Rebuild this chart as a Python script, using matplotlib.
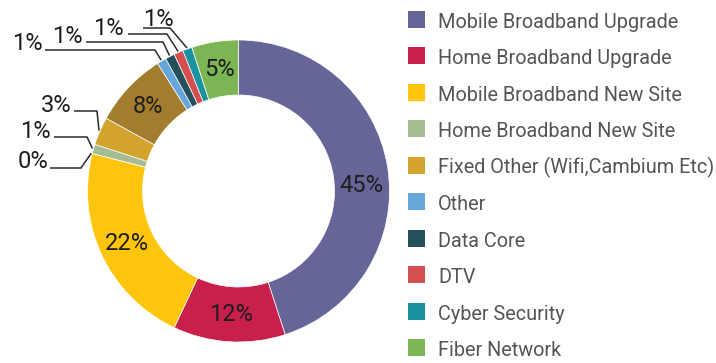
import numpy as np
import matplotlib
matplotlib.use("Agg")
import matplotlib.pyplot as plt
from matplotlib.patches import Rectangle

plt.rcParams['font.family'] = ['Roboto', 'DejaVu Sans']

# Share of spend per category, clockwise from 12 o'clock
slice_names = ["Mobile Broadband Upgrade", "Home Broadband Upgrade",
               "Mobile Broadband New Site", None, "Home Broadband New Site",
               "Fixed Other (Wifi,Cambium Etc)", None, "Other", "Data Core",
               "DTV", "Cyber Security", "Fiber Network"]
shares = [45, 12, 22, 0, 1, 3, 8, 1, 1, 1, 1, 5]
slice_colors = ["#656598", "#c8204b", "#fec50c", "#9a9a9a", "#a6bc92",
                "#d2a42d", "#a37d2e", "#66a6da", "#23505a", "#d44f4f",
                "#1b929f", "#7cb553"]

legend_names = ["Mobile Broadband Upgrade", "Home Broadband Upgrade",
                "Mobile Broadband New Site", "Home Broadband New Site",
                "Fixed Other (Wifi,Cambium Etc)", "Other", "Data Core", "DTV",
                "Cyber Security", "Fiber Network"]

W, H = 716, 363
fig = plt.figure(figsize=(W / 100, H / 100), dpi=100)
ax = fig.add_axes([0, 0, 1, 1])


def Y(yp):
    return H - yp


cx, cy = 238.5, Y(191)
r_out, ring = 151, 55

wedges, _ = ax.pie(shares, colors=slice_colors, startangle=90,
                   counterclock=False, radius=r_out, center=(cx, cy),
                   wedgeprops=dict(width=ring, edgecolor="white", linewidth=0.5))
ax.set_aspect("auto")
ax.set_xlim(0, W)
ax.set_ylim(0, H)
ax.axis("off")

text_dark = "#1e1e1e"
label_fs = 17
label_weight = "normal"

# values printed inside the ring for the wider slices
angle_shift = {0: -6.5}
r_mid = r_out - ring / 2
for i, (w, v) in enumerate(zip(wedges, shares)):
    if v < 5:
        continue
    a = np.deg2rad((w.theta1 + w.theta2) / 2 + angle_shift.get(i, 0))
    ax.text(cx + r_mid * np.cos(a), cy + r_mid * np.sin(a), f"{v}%",
            ha="center", va="center", fontsize=label_fs, color=text_dark,
            fontweight=label_weight)

# callouts for the thin slices: (elbow x, elbow y, line end x, text x, text y, align)
callouts = {
    10: (170, 28, 143, 143, 26, "left"),
    9: (167, 34, 128, 124, 35, "right"),
    8: (163, 42, 86, 83, 43, "right"),
    7: (155, 50, 45, 43, 50, "right"),
    5: (97, 111, 74, 71, 112, "right"),
    4: (87, 137, 54, 51, 138, "right"),
    3: (81, 168, 50, 48, 168, "right"),
}
for i, (ex, ey, lx, tx, ty, ha) in callouts.items():
    w = wedges[i]
    a = np.deg2rad((w.theta1 + w.theta2) / 2)
    sx, sy = cx + (r_out + 1) * np.cos(a), cy + (r_out + 1) * np.sin(a)
    ax.plot([sx, ex, lx], [sy, Y(ey), Y(ey)], color="#2b2b2b", lw=1.1,
            solid_capstyle="butt")
    ax.text(tx, Y(ty), f"{shares[i]}%", ha=ha, va="baseline",
            fontsize=label_fs, color=text_dark, fontweight=label_weight)

# legend
color_of = {n: c for n, c in zip(slice_names, slice_colors) if n}
row0, step = 19.5, 36.45
for k, name in enumerate(legend_names):
    yc = row0 + k * step
    ax.add_patch(Rectangle((408, Y(yc + 8.5)), 17, 17, facecolor=color_of[name],
                           edgecolor="none"))
    ax.text(438, Y(yc + 8.5), name, ha="left", va="baseline", fontsize=14.3,
            color="#555555", fontweight="normal")

fig.savefig("out.png", dpi=100)
